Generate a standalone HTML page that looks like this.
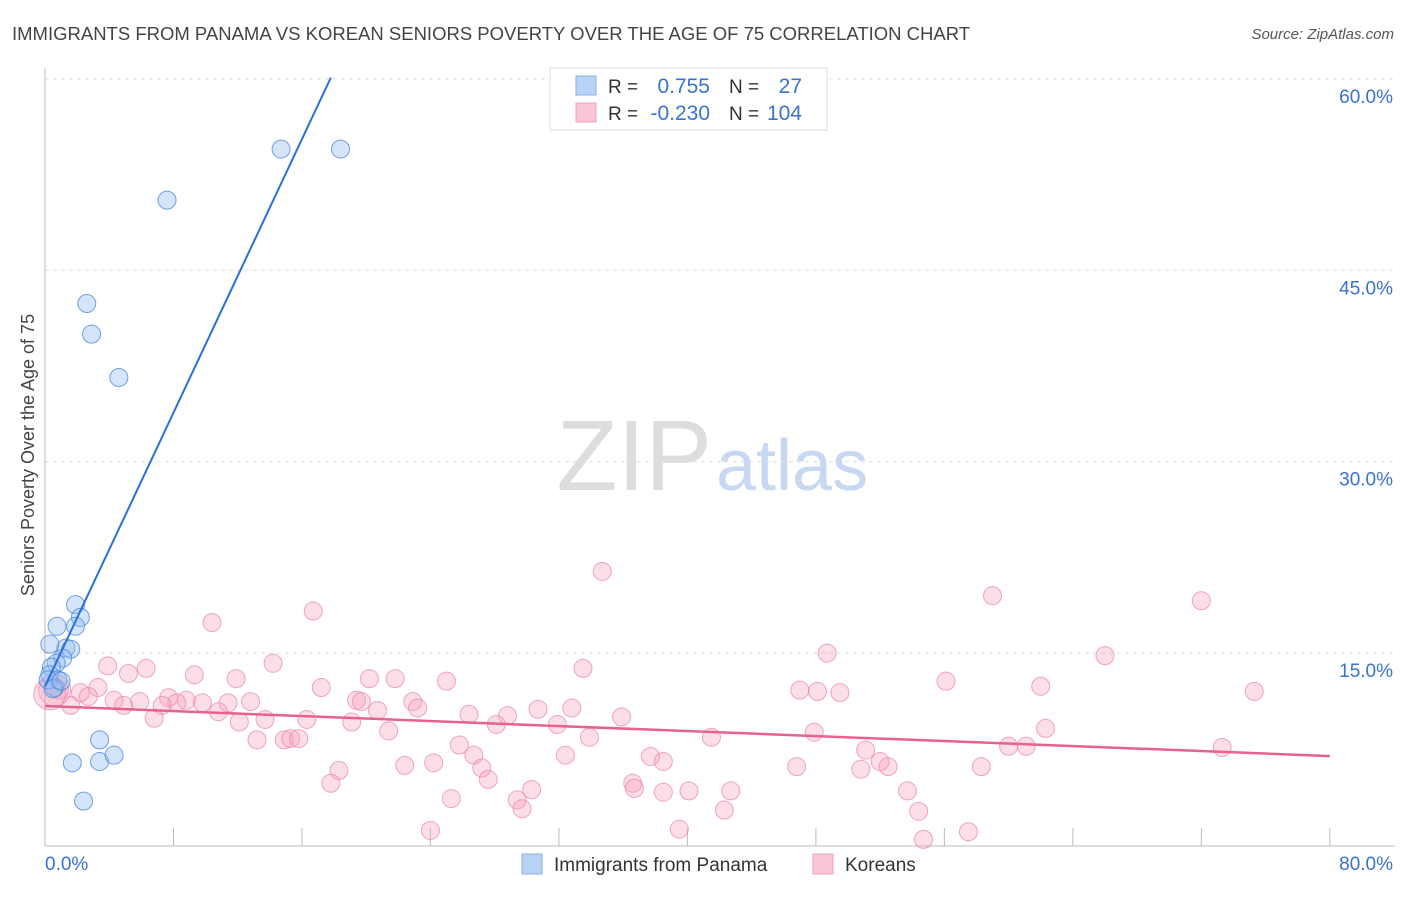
<!DOCTYPE html>
<html><head><meta charset="utf-8"><style>
body{margin:0;background:#fff;font-family:"Liberation Sans",sans-serif}
svg text{font-family:"Liberation Sans",sans-serif}
</style></head><body>
<svg width="1406" height="892" id="chart">
<text x="12" y="40" font-size="18.5" fill="#444">IMMIGRANTS FROM PANAMA VS KOREAN SENIORS POVERTY OVER THE AGE OF 75 CORRELATION CHART</text>
<text x="1394" y="39" font-size="15" fill="#555" text-anchor="end" font-style="italic">Source: ZipAtlas.com</text>
<text x="712" y="490" font-size="100" fill="#ddd" text-anchor="end" font-family="Liberation Serif">ZIP</text>
<text x="716" y="490" font-size="72" fill="#c7d9f2">atlas</text>
<g id="grid"></g>
<g id="axes"></g>
<g id="pts"></g>
<text x="34" y="455" font-size="18" fill="#444" text-anchor="middle" transform="rotate(-90 34 455)">Seniors Poverty Over the Age of 75</text>
<g>
<rect x="550" y="68" width="277" height="62" fill="#fff" stroke="#ddd"/>
<rect x="576" y="76" width="20" height="19" fill="#b9d3f5" stroke="#8ab2e8"/>
<rect x="576" y="103" width="20" height="19" fill="#f9c6d5" stroke="#f0a0b8"/>
<text x="608" y="93" font-size="19" fill="#333">R = </text><text x="710" y="93" font-size="21" fill="#3a72d0" text-anchor="end">0.755</text>
<text x="729" y="93" font-size="19" fill="#333">N = </text><text x="802" y="93" font-size="21" fill="#3a72d0" text-anchor="end">27</text>
<text x="608" y="120" font-size="19" fill="#333">R = </text><text x="710" y="120" font-size="21" fill="#3a72d0" text-anchor="end">-0.230</text>
<text x="729" y="120" font-size="19" fill="#333">N = </text><text x="802" y="120" font-size="21" fill="#3a72d0" text-anchor="end">104</text>
</g>
<g>
<rect x="522" y="854" width="20" height="20" fill="#b9d3f5" stroke="#8ab2e8"/>
<text x="554" y="871" font-size="19" fill="#333">Immigrants from Panama</text>
<rect x="813" y="854" width="20" height="20" fill="#f9c6d5" stroke="#f0a0b8"/>
<text x="845" y="871" font-size="19" fill="#333">Koreans</text>
</g>
</svg>
<script>
const blueX=[14.7,18.4,7.6,2.6,2.9,4.6,1.9,2.2,0.75,1.9,1.3,1.6,0.3,1.1,0.7,0.4,0.3,0.8,0.6,3.4,1.7,3.4,4.3,2.4,0.2,0.5,1.0];
const blueY=[54.5,54.5,50.5,42.4,40.0,36.6,18.8,17.8,17.1,17.1,15.4,15.3,15.7,14.6,14.2,13.9,13.3,12.9,12.3,8.2,6.4,6.5,7.0,3.4,12.9,12.2,12.8];
const pinkX=[34.7,59.0,72.0,16.7,10.4,48.7,66.0,14.2,33.5,3.9,6.3,5.2,9.3,11.9,20.2,21.8,25.0,56.1,62.0,3.3,17.2,47.0,48.1,49.5,75.3,2.2,2.7,0.9,7.7,8.8,4.3,5.9,8.2,9.8,11.4,12.8,19.4,19.7,22.9,4.9,7.3,1.6,23.2,20.7,30.7,32.8,26.4,28.8,10.8,6.8,35.9,16.3,13.7,19.1,12.1,31.9,28.1,21.4,62.3,47.9,33.9,41.5,13.2,14.9,15.3,15.8,25.8,60.0,61.1,73.3,32.4,26.7,51.1,37.7,38.5,52.0,22.4,24.2,27.2,18.3,46.8,50.8,52.5,58.3,27.6,17.8,36.6,36.7,40.1,42.7,38.5,53.7,30.3,25.3,29.4,29.7,42.3,54.4,24.0,39.5,57.5,54.7,0.6,0.3];
const pinkY=[21.4,19.5,19.1,18.3,17.4,15.0,14.8,14.2,13.8,14.0,13.8,13.4,13.3,13.0,13.0,13.0,12.8,12.8,12.4,12.3,12.3,12.1,12.0,11.9,12.0,11.9,11.6,12.1,11.5,11.3,11.3,11.2,11.1,11.1,11.1,11.2,11.3,11.2,11.2,10.9,10.9,10.9,10.7,10.5,10.6,10.7,10.2,10.1,10.4,9.9,10.0,9.8,9.8,9.6,9.6,9.4,9.4,8.9,9.1,8.8,8.4,8.4,8.2,8.2,8.3,8.3,7.8,7.7,7.7,7.6,7.0,7.0,7.4,6.9,6.5,6.5,6.2,6.4,6.0,5.8,6.1,5.9,6.1,6.1,5.1,4.8,4.8,4.4,4.2,4.2,4.1,4.2,4.3,3.6,3.5,2.8,2.7,2.6,1.1,1.2,1.0,0.4,12.1,11.8];
const yTicks=[15,30,45,60];
const yTickLabels=["15.0%","30.0%","45.0%","60.0%"];
const xTicks=[0,8,16,24,32,40,48,56,64,72,80];
const blueTrend=[12.4,2.68];   // intercept, slope
const pinkTrend=[10.85,-0.049];
const NS="http://www.w3.org/2000/svg";
const X=v=>45+v*16.06, Y=v=>844.5-v*12.76;
function mk(tag,attrs,parent){const e=document.createElementNS(NS,tag);for(const k in attrs)e.setAttribute(k,attrs[k]);parent.appendChild(e);return e;}
const grid=document.getElementById('grid'),axes=document.getElementById('axes'),pts=document.getElementById('pts');
yTicks.forEach((t,i)=>{
  const l=mk('line',{x1:45,x2:1395,y1:Y(t),y2:Y(t),stroke:'#ddd','stroke-dasharray':'4 4'},grid);
  
  
  const tx=mk('text',{x:1393,y:Y(t)+24,'font-size':19,fill:'#3a72d0','text-anchor':'end'},axes);
  tx.textContent=yTickLabels[i];
  
  
});
const ax=mk('line',{x1:45,x2:1395,y1:846,y2:846,stroke:'#bbb'},axes);


const ay=mk('line',{x1:45,x2:45,y1:68,y2:846,stroke:'#bbb'},axes);


xTicks.forEach(t=>{const l=mk('line',{x1:X(t),x2:X(t),y1:828,y2:846,stroke:'#bbb'},axes);
  
  });
const x0=mk('text',{x:45,y:870,'font-size':19,fill:'#3a72d0'},axes);x0.textContent='0.0%';


const x1=mk('text',{x:1393,y:870,'font-size':19,fill:'#3a72d0','text-anchor':'end'},axes);x1.textContent='80.0%';


pinkX.forEach((x,i)=>{const big=i>=pinkX.length-2;const c=mk('circle',{cx:X(x),cy:Y(pinkY[i]),r:big?16:9,fill:'rgba(245,160,190,0.35)',stroke:'rgba(235,130,165,0.7)','stroke-width':1},pts);
  
  });
blueX.forEach((x,i)=>{const c=mk('circle',{cx:X(x),cy:Y(blueY[i]),r:9,fill:'rgba(150,190,240,0.4)',stroke:'rgba(70,130,220,0.75)','stroke-width':1},pts);
  
  });
const bx2=(60.1-blueTrend[0])/blueTrend[1];
const bl=mk('line',{x1:X(0),y1:Y(blueTrend[0]),x2:X(bx2),y2:Y(blueTrend[0]+blueTrend[1]*bx2),stroke:'#2a6fdb','stroke-width':2},pts);


const pl=mk('line',{x1:X(0),y1:Y(pinkTrend[0]),x2:X(80),y2:Y(pinkTrend[0]+pinkTrend[1]*80),stroke:'#e8628e','stroke-width':2.5},pts);


</script>
</body></html>
